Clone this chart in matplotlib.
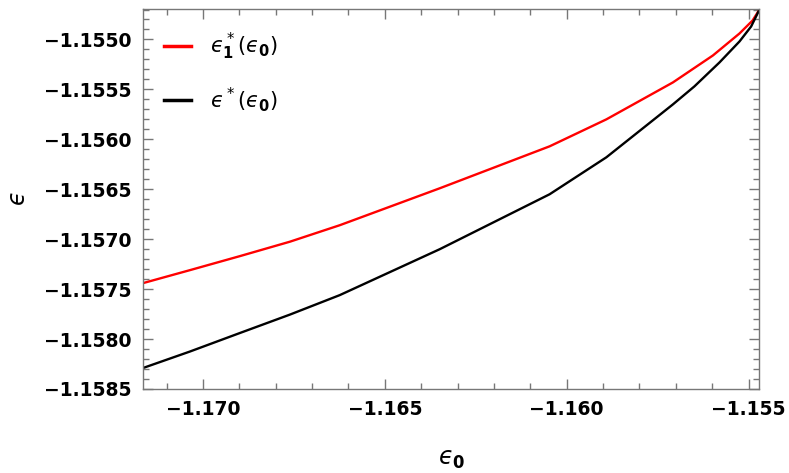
import numpy as np
import matplotlib
matplotlib.use("Agg")
import matplotlib.pyplot as plt
from matplotlib.ticker import MultipleLocator, FuncFormatter

# values
eps0_red = [-1.17165, -1.17036, -1.16899, -1.16761, -1.16624, -1.16349, -1.16047,
            -1.15891, -1.15708, -1.15598, -1.15525, -1.15489, -1.15470]
eps1_star = [-1.15744, -1.15731, -1.15717, -1.157025, -1.15686, -1.15649, -1.15607,
             -1.15580, -1.15543, -1.15516, -1.15494, -1.15481, -1.15470]

eps0_black = [-1.17165, -1.17036, -1.16899, -1.16761, -1.16624, -1.16349, -1.16047,
              -1.15891, -1.15708, -1.15649, -1.15580, -1.15525, -1.15493, -1.15470]
eps_star = [-1.15829, -1.158125, -1.15794, -1.157755, -1.15756, -1.15710, -1.15655,
            -1.15618, -1.15565, -1.15547, -1.15523, -1.15502, -1.15487, -1.15470]

labels = ['$\u03f5^*_\\mathbf{1}(\u03f5_\\mathbf{0})$', '$\u03f5^*(\u03f5_\\mathbf{0})$']

fig = plt.figure(figsize=[7.89, 4.73], dpi=100)
ax = fig.add_axes([0.1812, 0.1776, 0.7814, 0.8044])

ax.plot(eps0_red, eps1_star, color="red", linewidth=1.7, label=labels[0])
ax.plot(eps0_black, eps_star, color="black", linewidth=1.7, label=labels[1])

ax.set_xlim(-1.17165, -1.1547)
ax.set_ylim(-1.1585, -1.15469)

ax.xaxis.set_major_locator(MultipleLocator(0.005))
ax.xaxis.set_minor_locator(MultipleLocator(0.001))
ax.yaxis.set_major_locator(MultipleLocator(0.0005))
ax.yaxis.set_minor_locator(MultipleLocator(0.0001))
ax.xaxis.set_major_formatter(FuncFormatter(lambda v, p: '{:.3f}'.format(v).replace('-', '\u2212')))
ax.yaxis.set_major_formatter(FuncFormatter(lambda v, p: '{:.4f}'.format(v).replace('-', '\u2212')))

ax.tick_params(which='both', direction='in', top=True, right=True, color='#777777', width=1.0)
ax.tick_params(which='major', length=7, labelsize=13.5, pad=8)
ax.tick_params(which='minor', length=4)
for lab in ax.get_xticklabels() + ax.get_yticklabels():
    lab.set_fontweight('bold')
    lab.set_family('DejaVu Sans')
for s in ax.spines.values():
    s.set_color('#777777')
    s.set_linewidth(1.0)

ax.set_xlabel('$\u03f5_\\mathbf{0}$', fontsize=17, labelpad=20)
ax.set_ylabel('$\u03f5$', fontsize=17, labelpad=10)

ax.legend(loc='upper left', bbox_to_anchor=(0.0, 0.995), frameon=False, fontsize=15,
          handlelength=1.3, handletextpad=0.9, labelspacing=1.1, borderaxespad=0.6)
for h in ax.get_legend().legend_handles:
    h.set_linewidth(2.5)

fig.savefig("out.png", dpi=100)
